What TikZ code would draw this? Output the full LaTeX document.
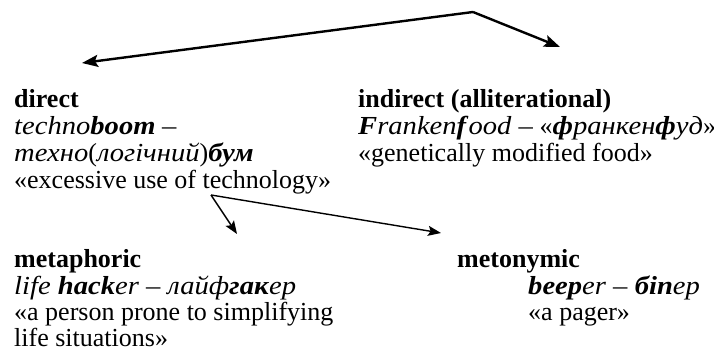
\documentclass[tikz,border=0pt]{standalone}
\usepackage{fontspec}
\setmainfont{Liberation Serif}[
  ItalicFeatures={FakeStretch=1.1},
  BoldItalicFeatures={FakeStretch=1.1}]
\usetikzlibrary{arrows.meta}
\tikzset{
  txt/.style={anchor=base west, inner sep=0pt, font=\fontsize{26}{28}\selectfont},
  bigarrow/.style={line width=2.4pt, -{Stealth[length=16pt,width=12pt,inset=3pt]}},
  smallarrow/.style={line width=1.4pt, -{Stealth[length=13pt,width=10pt,inset=2.5pt]}},
}
\newcommand{\bi}[1]{\textbf{\textit{#1}}}
\begin{document}
\begin{tikzpicture}[x=1pt,y=-1pt]
\useasboundingbox (0,0) rectangle (714,348);

% direct
\node[txt] (d1) at (14,107) {\textbf{direct}};
\node[txt] (d2) at (14,134) {\textit{techno}\bi{boom} \textit{–}};
\node[txt] (d3) at (14,161) {\textit{техно}(\textit{логічний})\bi{бум}};
\node[txt] (d4) at (14,188) {«excessive use of technology»};

% indirect
\node[txt] (i1) at (358,107) {\textbf{indirect (alliterational)}};
\node[txt] (i2) at (358,134) {\bi{F}\textit{ranken}\bi{f}\textit{ood –} «\bi{ф}\textit{ранкен}\bi{ф}\textit{уд}»};
\node[txt] (i3) at (358,161) {«genetically modified food»};

% metaphoric
\node[txt] (m1) at (14,267) {\textbf{metaphoric}};
\node[txt] (m2) at (14,294) {\textit{life }\bi{hack}\textit{er – лайф}\bi{гак}\textit{ер}};
\node[txt] (m3) at (14,320.5) {«a person prone to simplifying};
\node[txt] (m4) at (14,346) {life situations»};

% metonymic
\node[txt] (n1) at (457,267) {\textbf{metonymic}};
\node[txt] (n2) at (528,294) {\bi{beep}\textit{er – }\bi{біп}\textit{ер}};
\node[txt] (n3) at (528,320.5) {«a pager»};

% connectors
\coordinate (top) at (473,12);
\coordinate (dtip) at (82,63);
\coordinate (itip) at (560,47);
\draw[bigarrow] (top) -- (dtip);
\draw[bigarrow] (top) -- (itip);

\coordinate (fork) at (211,195);
\coordinate (mtip) at (237,234);
\coordinate (ntip) at (441,233);
\draw[smallarrow] (fork) -- (mtip);
\draw[smallarrow] (fork) -- (ntip);
\end{tikzpicture}
\end{document}
